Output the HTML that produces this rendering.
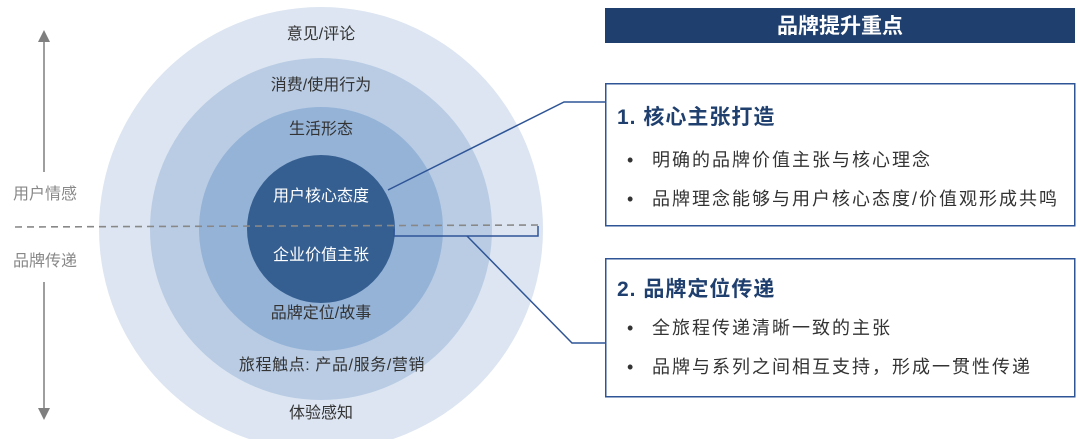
<!DOCTYPE html>
<html><head><meta charset="utf-8"><style>
body{margin:0;width:1080px;height:439px;background:#fff;overflow:hidden;font-family:"Liberation Sans","Noto Sans CJK SC",sans-serif;}
</style></head><body>
<svg width="1080" height="439" xmlns="http://www.w3.org/2000/svg" style="position:absolute;left:0;top:0">
<defs><marker id="ah" markerWidth="8" markerHeight="8" refX="4" refY="4" orient="auto"><path d="M0,0 L8,4 L0,8 z" fill="#7f7f7f"/></marker></defs>
<circle cx="321" cy="229" r="222" fill="#dce5f1"/>
<circle cx="321" cy="229" r="171" fill="#b9cce4"/>
<circle cx="321" cy="229" r="122" fill="#95b3d7"/>
<circle cx="321" cy="229" r="74" fill="#365f91"/>
<line x1="15" y1="227" x2="538" y2="225" stroke="#888" stroke-width="1.6" stroke-dasharray="7,5"/>
<path d="M394,229 V236 H538 V226" fill="none" stroke="#2f5597" stroke-width="1.5"/>
<polyline points="388,190 564,102 605,102" fill="none" stroke="#2f5597" stroke-width="1.5"/>
<polyline points="467,236 572,343 605,343" fill="none" stroke="#2f5597" stroke-width="1.5"/>
<line x1="44" y1="172" x2="44" y2="36" stroke="#7f7f7f" stroke-width="1.5" marker-end="url(#ah)"/>
<line x1="44" y1="282" x2="44" y2="414" stroke="#7f7f7f" stroke-width="1.5" marker-end="url(#ah)"/>
<g font-family="Liberation Sans, Noto Sans CJK SC, sans-serif" font-size="16" text-anchor="middle" fill="#333">
<text x="321" y="39">意见/评论</text>
<text x="321" y="90">消费/使用行为</text>
<text x="321" y="134">生活形态</text>
<text x="321" y="201" fill="#fff">用户核心态度</text>
<text x="321" y="260" fill="#fff">企业价值主张</text>
<text x="321" y="318">品牌定位/故事</text>
<text x="332" y="370" letter-spacing="0.6">旅程触点: 产品/服务/营销</text>
<text x="321" y="418">体验感知</text>
<text x="45" y="199" fill="#888">用户情感</text>
<text x="45" y="266" fill="#888">品牌传递</text>
</g>
<rect x="605" y="8" width="470" height="35" fill="#1f3f6e"/>
<text x="840" y="33" text-anchor="middle" font-size="21" font-weight="bold" fill="#fff" font-family="Liberation Sans, Noto Sans CJK SC, sans-serif">品牌提升重点</text>
<rect x="605.75" y="83.75" width="469" height="142" fill="#fff" stroke="#2f5597" stroke-width="1.5"/>
<rect x="605.75" y="258.75" width="469" height="138" fill="#fff" stroke="#2f5597" stroke-width="1.5"/>
<g font-family="Liberation Sans, Noto Sans CJK SC, sans-serif">
<text x="617" y="124" font-size="21" font-weight="bold" fill="#1f3f6e" letter-spacing="1">1. 核心主张打造</text>
<text x="617" y="296" font-size="21" font-weight="bold" fill="#1f3f6e" letter-spacing="1">2. 品牌定位传递</text>
<g font-size="18" fill="#333" letter-spacing="2">
<text x="627" y="166">•</text><text x="652" y="166">明确的品牌价值主张与核心理念</text>
<text x="627" y="205">•</text><text x="652" y="205">品牌理念能够与用户核心态度/价值观形成共鸣</text>
<text x="627" y="334">•</text><text x="652" y="334">全旅程传递清晰一致的主张</text>
<text x="627" y="373">•</text><text x="652" y="373">品牌与系列之间相互支持，形成一贯性传递</text>
</g></g>
</svg>
</body></html>
